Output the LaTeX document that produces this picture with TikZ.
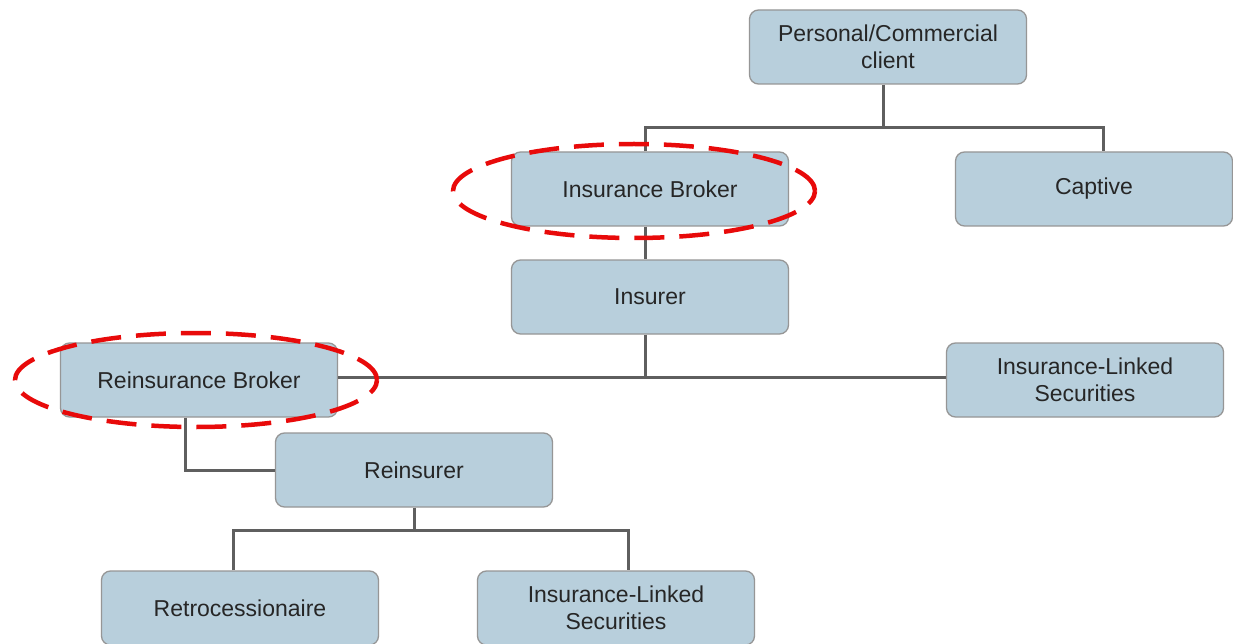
\documentclass[tikz,border=0pt]{standalone}
\usepackage{fontspec}
\setmainfont{Liberation Sans}
\definecolor{boxfill}{RGB}{184,207,220}
\definecolor{boxline}{RGB}{150,150,150}
\definecolor{connc}{RGB}{95,95,95}
\definecolor{ringred}{RGB}{232,10,10}
\begin{document}
\begin{tikzpicture}[x=1pt,y=-1pt,
  orgbox/.style={draw=boxline, line width=1.3pt, fill=boxfill, rounded corners=9pt,
    minimum width=277pt, minimum height=74pt, align=center, text=black!85,
    font=\fontsize{23}{27}\selectfont, inner sep=0pt},
  conn/.style={draw=connc, line width=3pt},
  ring/.style={draw=ringred, line width=4.5pt, dash pattern=on 30pt off 15pt}]
\useasboundingbox (0,0) rectangle (1233,644);
\fill[white] (0,0) rectangle (1233,644);
% nodes
\node[orgbox] (client) at (888,47) {Personal/Commercial\\client};
\node[orgbox] (ib) at (650,189) {Insurance Broker};
\node[orgbox] (cap) at (1094,189) {Captive};
\node[orgbox] (ins) at (650,297) {Insurer};
\node[orgbox] (rb) at (199,380) {Reinsurance Broker};
\node[orgbox] (ils1) at (1085,380) {Insurance-Linked\\Securities};
\node[orgbox] (rei) at (414,470) {Reinsurer};
\node[orgbox] (retro) at (240,608) {Retrocessionaire};
\node[orgbox] (ils2) at (616,608) {Insurance-Linked\\Securities};
% connectors
\draw[conn] ([xshift=-5pt]client.south) -- ++(0,43) coordinate (j1);
\draw[conn] ([xshift=-5pt]ib.north) |- (j1) -| ([xshift=9pt]cap.north);
\draw[conn] ([xshift=-5pt]ib.south) -- ([xshift=-5pt]ins.north);
\draw[conn] ([xshift=-5pt]ins.south) -- ++(0,43) coordinate (j2);
\draw[conn] ([yshift=3pt]rb.east) -- ([yshift=3pt]ils1.west);
\draw[conn] ([xshift=-14pt]rb.south) |- (rei.west);
\draw[conn] (rei.south) -- ++(0,23) coordinate (j3);
\draw[conn] ([xshift=-7pt]retro.north) |- (j3) -| ([xshift=12pt]ils2.north);
% red dashed rings
\draw[ring] (634,191) ellipse [x radius=181pt, y radius=47pt];
\draw[ring] (196,380) ellipse [x radius=181pt, y radius=47pt];
\end{tikzpicture}
\end{document}
